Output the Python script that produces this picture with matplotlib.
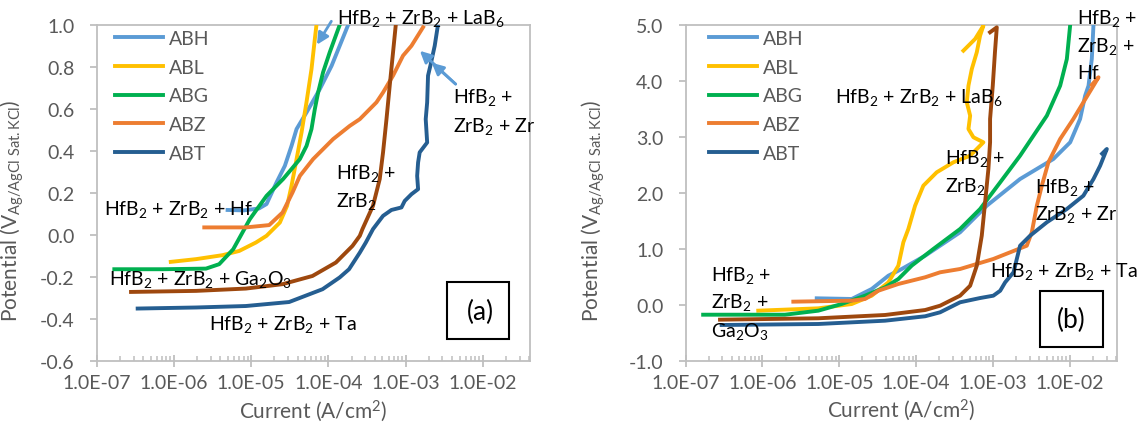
import matplotlib
matplotlib.use('Agg')
import matplotlib.pyplot as plt
import matplotlib.ticker as mticker
from matplotlib.patches import Rectangle

# fonts: Lato stands in for Calibri, subscripts through mathtext
plt.rcParams['font.family'] = ['Lato', 'DejaVu Sans']
plt.rcParams['mathtext.fontset'] = 'custom'
plt.rcParams['mathtext.rm'] = 'Lato'
plt.rcParams['mathtext.it'] = 'Lato:italic'
plt.rcParams['mathtext.bf'] = 'Lato:bold'
plt.rcParams['axes.unicode_minus'] = False

# ---------------- panel (a) : current (A/cm2), potential (V) ----------------
a_abh_i = [4.95e-6, 8.0e-6, 1.26e-5, 1.58e-5, 2.13e-5, 2.73e-5, 3.33e-5, 3.87e-5, 5.21e-5, 7.74e-5, 1.10e-4, 1.40e-4, 1.80e-4]
a_abh_e = [0.120, 0.118, 0.127, 0.148, 0.251, 0.330, 0.425, 0.505, 0.584, 0.695, 0.806, 0.901, 1.0]

a_abl_i = [9.1e-7, 1.93e-6, 4.27e-6, 7.0e-6, 1.15e-5, 1.58e-5, 2.35e-5, 2.92e-5, 3.33e-5, 3.87e-5, 4.49e-5, 5.2e-5, 6.04e-5, 6.67e-5, 7.0e-5]
a_abl_e = [-0.127, -0.114, -0.095, -0.075, -0.035, -0.003, 0.060, 0.140, 0.235, 0.362, 0.489, 0.632, 0.790, 0.933, 1.0]

a_abg_i = [1.69e-7, 7.1e-7, 2.6e-6, 3.85e-6, 5.85e-6, 9.6e-6, 1.58e-5, 2.59e-5, 4.27e-5, 5.21e-5, 6.04e-5, 6.67e-5, 7.36e-5, 8.53e-5, 1.04e-4, 1.40e-4]
a_abg_e = [-0.162, -0.162, -0.159, -0.138, -0.067, 0.076, 0.187, 0.267, 0.362, 0.425, 0.505, 0.600, 0.679, 0.775, 0.870, 1.0]

a_abz_i = [2.47e-6, 8.53e-6, 1.71e-5, 2.55e-5, 3.43e-5, 4.27e-5, 6.34e-5, 1.15e-4, 1.89e-4, 2.55e-4, 4.19e-4, 5.1e-4, 6.87e-4, 9.25e-4, 1.19e-3, 1.68e-3]
a_abz_e = [0.037, 0.037, 0.048, 0.108, 0.203, 0.282, 0.362, 0.457, 0.520, 0.552, 0.632, 0.679, 0.759, 0.854, 0.901, 0.989]

a_abt_i = [3.39e-7, 1.93e-6, 8.53e-6, 3.10e-5, 8.4e-5, 1.40e-4, 1.85e-4, 2.55e-4, 3.05e-4, 3.78e-4, 5.1e-4, 6.55e-4, 8.83e-4, 9.73e-4,
           1.19e-3, 1.45e-3, 1.41e-3, 1.45e-3, 1.52e-3, 1.90e-3, 1.82e-3, 1.90e-3, 1.95e-3, 2.09e-3, 2.38e-3, 2.62e-3]
a_abt_e = [-0.349, -0.344, -0.337, -0.318, -0.257, -0.201, -0.162, -0.083, -0.035, 0.029, 0.092, 0.120, 0.132, 0.163,
           0.195, 0.219, 0.282, 0.346, 0.394, 0.441, 0.552, 0.632, 0.759, 0.806, 0.901, 1.0]

# HfB2 + ZrB2 (not in legend)
a_base_i = [2.78e-7, 1.93e-6, 8.53e-6, 2.55e-5, 6.22e-5, 1.25e-4, 2.05e-4, 2.55e-4, 2.76e-4, 3.78e-4, 4.62e-4, 5.1e-4, 5.65e-4, 6.22e-4, 6.87e-4, 7.45e-4]
a_base_e = [-0.270, -0.265, -0.254, -0.233, -0.194, -0.130, -0.051, -0.003, 0.029, 0.140, 0.267, 0.394, 0.552, 0.711, 0.870, 1.0]

# ---------------- panel (b) ----------------
b_abh_i = [5.08e-6, 1.45e-5, 2.64e-5, 4.35e-5, 6.49e-5, 1.31e-4, 3.73e-4, 8.30e-4, 2.25e-3, 6.11e-3, 1.01e-2, 1.36e-2, 1.58e-2, 1.75e-2, 1.93e-2, 2.03e-2]
b_abh_e = [0.115, 0.103, 0.282, 0.519, 0.639, 0.877, 1.295, 1.770, 2.247, 2.605, 2.903, 3.320, 3.736, 3.915, 4.392, 5.0]

b_abl_i = [8.81e-7, 5.33e-6, 1.45e-5, 2.64e-5, 4.35e-5, 5.86e-5, 6.81e-5, 7.91e-5, 9.68e-5, 1.24e-4, 1.85e-4, 3.05e-4, 5.04e-4, 7.50e-4,
           5.56e-4, 4.79e-4, 5.04e-4, 4.56e-4, 4.79e-4, 5.30e-4, 6.15e-4, 6.79e-4, 7.50e-4, 5.85e-4, 4.12e-4]
b_abl_e = [-0.106, -0.064, 0.013, 0.162, 0.401, 0.698, 1.116, 1.354, 1.770, 2.128, 2.367, 2.546, 2.664, 2.903,
           2.993, 3.141, 3.379, 3.618, 3.915, 4.214, 4.512, 4.809, 4.988, 4.75, 4.541]

b_abg_i = [1.69e-7, 1.96e-6, 5.33e-6, 1.07e-5, 2.16e-5, 3.94e-5, 5.86e-5, 8.77e-5, 1.67e-4, 3.73e-4, 6.79e-4, 1.24e-3, 2.25e-3, 2.75e-3, 5.02e-3, 7.48e-3, 9.14e-3, 1.01e-2]
b_abg_e = [-0.178, -0.178, -0.106, 0.013, 0.162, 0.312, 0.460, 0.70, 0.996, 1.354, 1.711, 2.188, 2.664, 2.843, 3.379, 3.915, 4.392, 5.0]

b_abz_i = [2.52e-6, 1.45e-5, 2.16e-5, 3.22e-5, 5.86e-5, 1.31e-4, 2.05e-4, 3.73e-4, 1.01e-3, 2.75e-3, 3.20e-3, 3.72e-3, 4.32e-3, 5.26e-3, 7.48e-3, 1.11e-2, 1.50e-2, 2.03e-2, 2.36e-2, 1.93e-2]
b_abz_e = [0.055, 0.073, 0.103, 0.251, 0.371, 0.491, 0.580, 0.639, 0.818, 1.055, 1.295, 1.770, 2.128, 2.546, 2.963, 3.320, 3.618, 3.915, 4.065, 3.93]

b_abt_i = [2.94e-7, 5.33e-6, 3.94e-5, 1.31e-4, 2.05e-4, 3.73e-4, 6.79e-4, 1.01e-3, 1.24e-3, 1.44e-3, 1.85e-3, 2.04e-3, 2.25e-3, 3.04e-3, 5.02e-3, 9.14e-3, 1.50e-2, 2.03e-2, 2.48e-2, 3.03e-2, 2.63e-2]
b_abt_e = [-0.362, -0.344, -0.285, -0.206, -0.135, 0.044, 0.120, 0.162, 0.25, 0.401, 0.580, 0.818, 1.055, 1.234, 1.474, 1.711, 1.949, 2.247, 2.485, 2.784, 2.70]

b_base_i = [2.80e-7, 5.33e-6, 3.94e-5, 7.55e-5, 1.31e-4, 2.05e-4, 3.73e-4, 5.04e-4, 6.15e-4, 7.14e-4, 7.89e-4, 8.71e-4, 9.16e-4, 9.16e-4, 9.93e-4, 1.06e-3, 1.12e-3, 9.16e-4]
b_base_e = [-0.267, -0.242, -0.183, -0.135, -0.094, -0.017, 0.162, 0.340, 0.698, 1.234, 1.830, 2.426, 2.903, 3.320, 3.915, 4.512, 4.958, 4.87]

names = ['ABH', 'ABL', 'ABG', 'ABZ', 'ABT']
colors = ['#5B9BD5', '#FFC000', '#00B050', '#ED7D31', '#255E91']
base_color = '#9E480E'
xticks = [1e-7, 1e-6, 1e-5, 1e-4, 1e-3, 1e-2]
xlabels = ['1.0E-07', '1.0E-06', '1.0E-05', '1.0E-04', '1.0E-03', '1.0E-02']

GRAY = '#595959'
AXC = '#BFBFBF'
FS = 14
LW = 2.8


def draw_panel(ax, curves, base, ylim, ystep, tag, tagbox, tagpos, ylab_x):
    # curves: list of (i, e) in legend order
    for (i, e), name, c in zip(curves, names, colors):
        if name == 'ABT':
            ax.plot(base[0], base[1], color=base_color, lw=LW, label='_nolegend_', zorder=3)
        ax.plot(i, e, color=c, lw=LW, label=name, zorder=3)
    ax.set_xscale('log')
    ax.set_xlim(1e-7, 10 ** -1.39)
    ax.set_ylim(*ylim)
    ax.set_xticks(xticks)
    ax.set_xticklabels(xlabels)
    ax.xaxis.set_minor_locator(mticker.LogLocator(base=10, subs=range(2, 10), numticks=20))
    ax.xaxis.set_minor_formatter(mticker.NullFormatter())
    yt = []
    v = ylim[0]
    while v <= ylim[1] + 1e-9:
        yt.append(round(v, 2))
        v += ystep
    ax.set_yticks(yt)
    ax.yaxis.set_major_formatter(mticker.FormatStrFormatter('%.1f'))
    for s in ax.spines.values():
        s.set_color(AXC)
        s.set_linewidth(1.3)
    ax.tick_params(axis='x', which='major', direction='inout', length=9, width=1.3, color=AXC,
                   labelcolor=GRAY, labelsize=FS, pad=5)
    ax.tick_params(axis='x', which='minor', direction='in', length=3.5, width=1.1, color=AXC)
    ax.tick_params(axis='y', which='major', direction='out', length=5, width=1.3, color=AXC,
                   labelcolor=GRAY, labelsize=FS, pad=11)
    ax.set_xlabel('Current (A/cm$^2$)', color=GRAY, fontsize=15, labelpad=4)
    ax.set_ylabel('Potential (V$_{\\mathrm{Ag/AgCl\\ Sat.KCl}}$)', color=GRAY, fontsize=15)
    ax.yaxis.set_label_coords(ylab_x, 0.45)
    ax.add_patch(Rectangle((tagbox[0], tagbox[1]), tagbox[2], tagbox[3], transform=ax.transAxes,
                           fill=False, edgecolor='black', lw=1.5, zorder=4))
    ax.text(tagpos[0], tagpos[1], tag, transform=ax.transAxes, ha='center', va='center',
            fontsize=19, color='black')


def note(ax, x, y, s):
    ax.text(x, y, s, fontsize=FS, color='black', ha='left', va='baseline', zorder=5, clip_on=False)


fig = plt.figure(figsize=(11.38, 4.31), dpi=100)
ax1 = fig.add_axes([0.0850, 0.1594, 0.3807, 0.7803])
ax2 = fig.add_axes([0.6025, 0.1608, 0.3788, 0.7789])

draw_panel(ax1, [(a_abh_i, a_abh_e), (a_abl_i, a_abl_e), (a_abg_i, a_abg_e), (a_abz_i, a_abz_e), (a_abt_i, a_abt_e)],
           (a_base_i, a_base_e), (-0.6, 1.0), 0.2, '(a)', (0.808, 0.066, 0.144, 0.170), (0.885, 0.147), -0.163)
draw_panel(ax2, [(b_abh_i, b_abh_e), (b_abl_i, b_abl_e), (b_abg_i, b_abg_e), (b_abz_i, b_abz_e), (b_abt_i, b_abt_e)],
           (b_base_i, b_base_e), (-1.0, 5.0), 1.0, '(b)', (0.822, 0.041, 0.146, 0.167), (0.894, 0.124), -0.183)

for ax, x0 in ((ax1, 0.042), (ax2, 0.055)):
    ax.legend(loc='upper left', bbox_to_anchor=(x0, 0.985), frameon=False, fontsize=FS,
              handlelength=2.47, handletextpad=0.3, labelspacing=0.6, borderpad=0, borderaxespad=0,
              labelcolor=GRAY)

# annotations, panel (a)
note(ax1, 1.29e-4, 1.010, 'HfB$_2$ + ZrB$_2$ + LaB$_6$')
note(ax1, 4.10e-3, 0.632, 'HfB$_2$ +')
note(ax1, 4.10e-3, 0.497, 'ZrB$_2$ + Zr')
note(ax1, 1.24e-4, 0.270, 'HfB$_2$ +')
note(ax1, 1.24e-4, 0.140, 'ZrB$_2$')
note(ax1, 1.25e-7, 0.103, 'HfB$_2$ + ZrB$_2$ + Hf')
note(ax1, 1.43e-7, -0.233, 'HfB$_2$ + ZrB$_2$ + Ga$_2$O$_3$')
note(ax1, 2.86e-6, -0.444, 'HfB$_2$ + ZrB$_2$ + Ta')

arrow = dict(arrowstyle='-|>,head_length=0.7,head_width=0.35', color='#5B9BD5', lw=2)
ax1.annotate('', xy=(6.8e-5, 0.895), xytext=(1.14e-4, 1.029), arrowprops=arrow, annotation_clip=False)
ax1.annotate('', xy=(1.44e-3, 0.886), xytext=(4.72e-3, 0.710), arrowprops=arrow, annotation_clip=False)
ax1.annotate('', xy=(2.05e-3, 0.829), xytext=(4.72e-3, 0.710), arrowprops=arrow, annotation_clip=False)

# annotations, panel (b)
note(ax2, 1.23e-2, 5.036, 'HfB$_2$ +')
note(ax2, 1.23e-2, 4.541, 'ZrB$_2$ +')
note(ax2, 1.23e-2, 4.053, 'Hf')
note(ax2, 8.8e-6, 3.618, 'HfB$_2$ + ZrB$_2$ + LaB$_6$')
note(ax2, 2.38e-4, 2.534, 'HfB$_2$ +')
note(ax2, 2.38e-4, 2.028, 'ZrB$_2$')
note(ax2, 3.53e-3, 2.021, 'HfB$_2$ +')
note(ax2, 3.53e-3, 1.533, 'ZrB$_2$ + Zr')
note(ax2, 9.16e-4, 0.519, 'HfB$_2$ + ZrB$_2$ + Ta')
note(ax2, 2.13e-7, 0.448, 'HfB$_2$ +')
note(ax2, 2.13e-7, -0.045, 'ZrB$_2$ +')
note(ax2, 2.13e-7, -0.553, 'Ga$_2$O$_3$')

plt.savefig('out.png', dpi=100)
